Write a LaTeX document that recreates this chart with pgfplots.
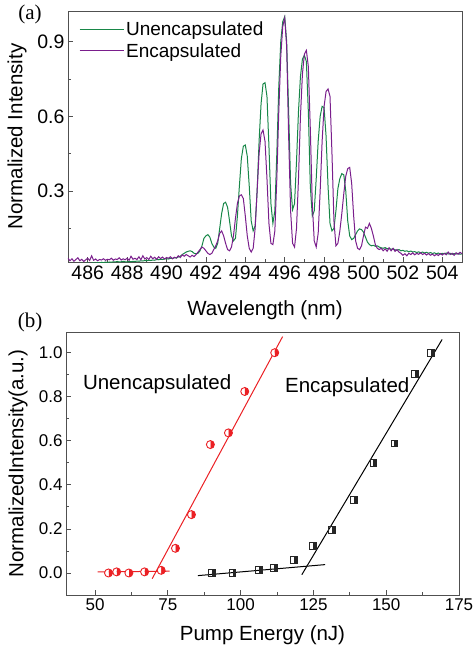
\documentclass[border=0pt]{standalone}
\usepackage{pgfplots}
\pgfplotsset{compat=1.18}
\usepackage{pgfplotstable}
\usepackage{fontspec}
\setmainfont{Liberation Sans}
\newfontfamily\serifrm{Liberation Serif}
\usetikzlibrary{plotmarks}

\definecolor{ugreen}{RGB}{24,135,72}
\definecolor{epurple}{RGB}{122,30,140}
\definecolor{fitred}{RGB}{235,32,36}
\definecolor{frame}{RGB}{80,80,80}

% square with its right half filled
\pgfdeclareplotmark{hsq}{%
  \pgfpathrectangle{\pgfqpoint{0pt}{-\pgfplotmarksize}}{\pgfqpoint{\pgfplotmarksize}{2\pgfplotmarksize}}%
  \pgfusepathqfill
  \pgfpathrectangle{\pgfqpoint{-\pgfplotmarksize}{-\pgfplotmarksize}}{\pgfqpoint{2\pgfplotmarksize}{2\pgfplotmarksize}}%
  \pgfusepathqstroke
}

% spectra: wavelength, unencapsulated, encapsulated
\pgfplotstableread[row sep=\\]{
x u e\\
485.0 0.006 0.030\\ 485.1 0.008 0.020\\ 485.2 0.005 0.028\\ 485.3 0.007 0.018\\ 485.4 0.009 0.025\\
485.5 0.006 0.032\\ 485.6 0.008 0.020\\ 485.7 0.010 0.026\\ 485.8 0.007 0.017\\ 485.9 0.009 0.024\\
486.0 0.011 0.030\\ 486.1 0.008 0.021\\ 486.2 0.010 0.040\\ 486.3 0.012 0.022\\ 486.4 0.010 0.027\\
486.5 0.013 0.020\\ 486.6 0.011 0.025\\ 486.7 0.014 0.023\\ 486.8 0.012 0.028\\ 486.9 0.015 0.022\\
487.0 0.013 0.026\\ 487.1 0.015 0.024\\ 487.2 0.014 0.030\\ 487.3 0.016 0.022\\ 487.4 0.015 0.027\\
487.5 0.017 0.025\\ 487.6 0.015 0.032\\ 487.7 0.016 0.023\\ 487.8 0.018 0.028\\ 487.9 0.016 0.024\\
488.0 0.015 0.030\\ 488.1 0.017 0.022\\ 488.2 0.016 0.038\\ 488.3 0.018 0.026\\ 488.4 0.017 0.030\\
488.5 0.019 0.025\\ 488.6 0.018 0.036\\ 488.7 0.020 0.024\\ 488.8 0.019 0.040\\ 488.9 0.021 0.027\\
489.0 0.020 0.033\\ 489.1 0.022 0.025\\ 489.2 0.021 0.038\\ 489.3 0.023 0.028\\ 489.4 0.022 0.034\\
489.5 0.025 0.026\\ 489.6 0.024 0.036\\ 489.7 0.026 0.029\\ 489.8 0.025 0.035\\ 489.9 0.027 0.027\\
490.0 0.028 0.033\\ 490.1 0.027 0.030\\ 490.2 0.030 0.036\\ 490.3 0.029 0.028\\ 490.4 0.032 0.034\\
490.5 0.031 0.031\\ 490.6 0.035 0.040\\ 490.7 0.038 0.033\\ 490.8 0.045 0.044\\ 490.9 0.050 0.038\\
491.0 0.055 0.045\\ 491.1 0.058 0.040\\ 491.2 0.060 0.035\\ 491.3 0.057 0.042\\ 491.4 0.050 0.037\\
491.5 0.048 0.045\\ 491.6 0.050 0.055\\ 491.7 0.060 0.065\\ 491.8 0.080 0.075\\ 491.9 0.110 0.070\\
492.0 0.120 0.060\\ 492.1 0.125 0.050\\ 492.2 0.115 0.045\\ 492.3 0.090 0.050\\ 492.4 0.075 0.065\\
492.5 0.070 0.080\\ 492.6 0.090 0.100\\ 492.7 0.150 0.130\\ 492.8 0.210 0.140\\ 492.9 0.250 0.120\\
493.0 0.255 0.090\\ 493.1 0.235 0.065\\ 493.2 0.180 0.060\\ 493.3 0.120 0.075\\ 493.4 0.100 0.120\\
493.5 0.110 0.190\\ 493.6 0.200 0.250\\ 493.7 0.320 0.280\\ 493.8 0.430 0.285\\ 493.9 0.480 0.270\\
494.0 0.485 0.200\\ 494.1 0.440 0.120\\ 494.2 0.320 0.070\\ 494.3 0.180 0.055\\ 494.4 0.140 0.070\\
494.5 0.160 0.150\\ 494.6 0.300 0.300\\ 494.7 0.500 0.450\\ 494.8 0.650 0.530\\ 494.9 0.730 0.545\\
495.0 0.735 0.500\\ 495.1 0.680 0.350\\ 495.2 0.480 0.170\\ 495.3 0.250 0.090\\ 495.4 0.170 0.085\\
495.5 0.220 0.140\\ 495.6 0.450 0.350\\ 495.7 0.720 0.620\\ 495.8 0.900 0.840\\ 495.9 0.980 0.960\\
496.0 1.000 0.995\\ 496.1 0.900 0.880\\ 496.2 0.620 0.520\\ 496.3 0.330 0.220\\ 496.4 0.225 0.090\\
496.5 0.250 0.075\\ 496.6 0.420 0.150\\ 496.7 0.620 0.350\\ 496.8 0.760 0.600\\ 496.9 0.830 0.770\\
497.0 0.845 0.850\\ 497.1 0.820 0.865\\ 497.2 0.620 0.800\\ 497.3 0.320 0.550\\ 497.4 0.200 0.250\\
497.5 0.220 0.100\\ 497.6 0.350 0.075\\ 497.7 0.500 0.130\\ 497.8 0.600 0.300\\ 497.9 0.640 0.500\\
498.0 0.635 0.640\\ 498.1 0.520 0.700\\ 498.2 0.320 0.710\\ 498.3 0.170 0.680\\ 498.4 0.140 0.450\\
498.5 0.150 0.180\\ 498.6 0.220 0.080\\ 498.7 0.310 0.090\\ 498.8 0.350 0.140\\ 498.9 0.370 0.210\\
499.0 0.365 0.290\\ 499.1 0.300 0.360\\ 499.2 0.180 0.390\\ 499.3 0.120 0.395\\ 499.4 0.105 0.330\\
499.5 0.110 0.200\\ 499.6 0.125 0.100\\ 499.7 0.140 0.070\\ 499.8 0.148 0.065\\ 499.9 0.145 0.080\\
500.0 0.135 0.120\\ 500.1 0.115 0.155\\ 500.2 0.095 0.150\\ 500.3 0.085 0.170\\ 500.4 0.080 0.150\\
500.5 0.082 0.120\\ 500.6 0.078 0.085\\ 500.7 0.080 0.070\\ 500.8 0.075 0.065\\ 500.9 0.072 0.070\\
501.0 0.070 0.060\\ 501.1 0.073 0.068\\ 501.2 0.068 0.058\\ 501.3 0.070 0.072\\ 501.4 0.066 0.060\\
501.5 0.068 0.070\\ 501.6 0.064 0.058\\ 501.7 0.062 0.065\\ 501.8 0.065 0.055\\ 501.9 0.060 0.050\\
502.0 0.062 0.042\\ 502.1 0.058 0.048\\ 502.2 0.060 0.040\\ 502.3 0.056 0.050\\ 502.4 0.059 0.045\\
502.5 0.055 0.052\\ 502.6 0.057 0.044\\ 502.7 0.053 0.050\\ 502.8 0.056 0.046\\ 502.9 0.052 0.052\\
503.0 0.055 0.045\\ 503.1 0.051 0.050\\ 503.2 0.054 0.043\\ 503.3 0.050 0.049\\ 503.4 0.053 0.042\\
503.5 0.049 0.047\\ 503.6 0.052 0.040\\ 503.7 0.048 0.046\\ 503.8 0.051 0.041\\ 503.9 0.047 0.049\\
504.0 0.050 0.043\\ 504.1 0.048 0.050\\ 504.2 0.051 0.044\\ 504.3 0.047 0.055\\ 504.4 0.050 0.045\\
504.5 0.046 0.050\\ 504.6 0.049 0.042\\ 504.7 0.047 0.052\\ 504.8 0.050 0.046\\ 504.9 0.046 0.054\\
505.0 0.048 0.048\\
}\spectra

\pgfplotsset{
  every axis/.append style={
    scale only axis,
    axis line style={frame, line width=0.8pt},
    tick style={frame, line width=0.8pt},
    tick align=inside,
    xtick pos=bottom, ytick pos=left,
    major tick length=5pt, minor tick length=3pt,
    /pgf/number format/assume math mode=true,
    label style={font=\fontsize{20.5}{24}\selectfont},
  },
}

\begin{document}
\begin{tikzpicture}
\path[use as bounding box] (0,0) rectangle (475pt,-651pt);

% (a) spectra
\begin{axis}[
  at={(68pt,-262pt)}, anchor=south west,
  width=394pt, height=251pt,
  xmin=485, xmax=505, ymin=0.015, ymax=1.023,
  xtick={486,488,...,504},
  minor xtick={487,489,...,503},
  ytick={0.3,0.6,0.9},
  minor ytick={0.15,0.45,0.75},
  yticklabel style={/pgf/number format/.cd, fixed, fixed zerofill, precision=1},
  tick label style={font=\fontsize{19.5}{22}\selectfont},
  xlabel={Wavelength (nm)},
  ylabel={Normalized Intensity},
  xlabel style={at={(axis description cs:0.5,-0.191)}, anchor=center},
  ylabel style={at={(axis description cs:-0.129,0.5)}, anchor=center},
  legend style={draw=none, fill=none, at={(axis description cs:0.02,0.975)},
    anchor=north west, font=\fontsize{19}{23}\selectfont, row sep=2.5pt},
  legend cell align=left,
  legend image code/.code={\draw[#1] (0pt,0pt) -- (41pt,0pt); \path (41pt,0pt) -- (44pt,0pt);},
]
\addplot[ugreen, line width=1pt] table[x=x, y=u] {\spectra};
\addlegendentry{Unencapsulated}
\addplot[epurple, line width=1pt] table[x=x, y=e] {\spectra};
\addlegendentry{Encapsulated}
\end{axis}

% (b) threshold
\begin{axis}[
  at={(66pt,-595pt)}, anchor=south west,
  width=393pt, height=263pt,
  xmin=40, xmax=175, ymin=-0.1, ymax=1.094,
  xtick={50,75,...,175},
  minor xtick={62.5,87.5,...,162.5},
  ytick={0,0.2,...,1.0},
  minor ytick={0.1,0.3,...,0.9},
  yticklabel style={/pgf/number format/.cd, fixed, fixed zerofill, precision=1},
  tick label style={font=\fontsize{17}{20}\selectfont},
  xlabel={Pump Energy (nJ)},
  ylabel={NormalizedIntensity(a.u.)},
  xlabel style={at={(axis description cs:0.5,-0.152)}, anchor=center},
  ylabel style={at={(axis description cs:-0.122,0.5)}, anchor=center},
]
% fitted lines
\addplot[fitred, line width=1pt] coordinates {(50.9,0.005) (75.6,0.008)};
\addplot[fitred, line width=1pt] coordinates {(69.6,-0.026) (114.4,1.073)};
\addplot[black, line width=1pt] coordinates {(85.3,-0.012) (129.0,0.038)};
\addplot[black, line width=1pt] coordinates {(121.0,-0.008) (169.2,1.06)};
% measured points
\addplot[only marks, mark=halfcircle*, mark size=4pt,
  mark options={rotate=-90, draw=fitred, fill=fitred, line width=0.9pt}]
  coordinates {(54.6,0.0) (57.4,0.005) (61.6,0.0) (67.0,0.005) (72.7,0.012)
    (77.6,0.112) (83.1,0.265) (89.6,0.583) (95.8,0.636) (101.4,0.824) (111.7,1.0)};
\addplot[only marks, mark=hsq, mark size=3.4pt,
  mark options={draw=black!85, fill=black!85, line width=0.9pt}]
  coordinates {(90.0,0.0) (97.2,0.0) (106.3,0.012) (111.4,0.023) (118.3,0.058)
    (124.7,0.121) (131.3,0.195) (139.0,0.333) (145.6,0.5) (152.8,0.588)
    (160.0,0.903) (165.5,1.0)};
\node[font=\fontsize{20.5}{24}\selectfont] at (axis cs:71.3,0.856) {Unencapsulated};
\node[font=\fontsize{20.5}{24}\selectfont] at (axis cs:136.6,0.845) {Encapsulated};
\end{axis}

\node[font=\serifrm\fontsize{21}{24}\selectfont] at (30pt,-14pt) {(a)};
\node[font=\serifrm\fontsize{21}{24}\selectfont] at (30pt,-322pt) {(b)};
\end{tikzpicture}
\end{document}
